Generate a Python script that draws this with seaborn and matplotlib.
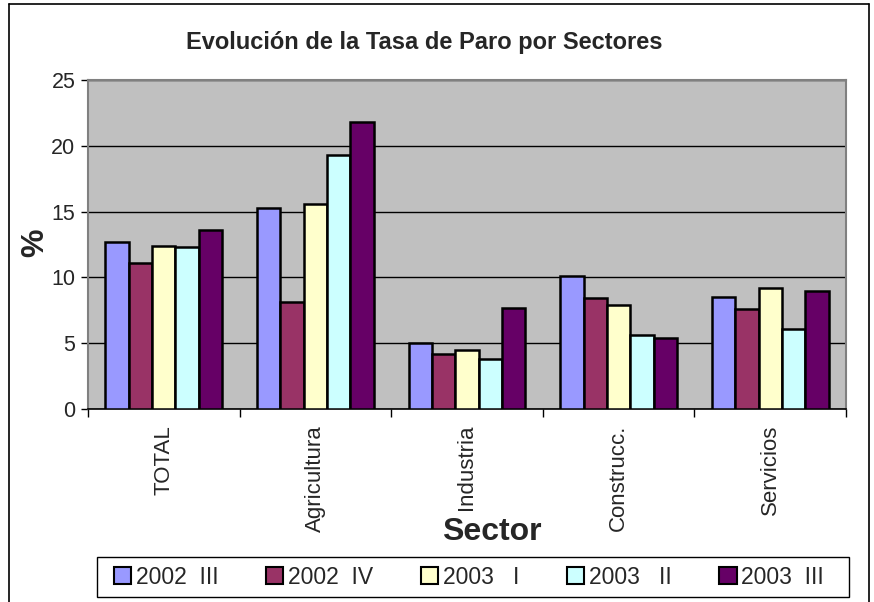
import matplotlib
matplotlib.use("Agg")
import matplotlib.pyplot as plt
import seaborn as sns
import pandas as pd
from matplotlib.patches import Patch, Rectangle
from matplotlib.lines import Line2D

sectors = ["TOTAL", "Agricultura", "Industria", "Construcc.", "Servicios"]
periods = ["2002  III", "2002  IV", "2003   I", "2003   II", "2003  III"]
v_2002_III = [12.7, 15.3, 5.0, 10.1, 8.5]
v_2002_IV = [11.1, 8.1, 4.2, 8.4, 7.6]
v_2003_I = [12.4, 15.6, 4.5, 7.9, 9.2]
v_2003_II = [12.3, 19.3, 3.8, 5.6, 6.1]
v_2003_III = [13.6, 21.8, 7.7, 5.4, 9.0]
colors = ["#9999FF", "#993366", "#FFFFCC", "#CCFFFF", "#660066"]

series = [v_2002_III, v_2002_IV, v_2003_I, v_2003_II, v_2003_III]
rows = []
for p, vals in zip(periods, series):
    for s, v in zip(sectors, vals):
        rows.append({"Sector": s, "Periodo": p, "Valor": v})
df = pd.DataFrame(rows)

sns.set_theme(style="white")
plt.rcParams["font.family"] = ["Liberation Sans", "DejaVu Sans"]

W, H = 874, 602
fig = plt.figure(figsize=(W / 100, H / 100), dpi=100)
fig.patch.set_facecolor("white")
ax = fig.add_axes([88 / W, 1 - 409 / H, (846 - 88) / W, (409 - 80) / H])
ax.set_facecolor("#C0C0C0")

sns.barplot(data=df, x="Sector", y="Valor", hue="Periodo", order=sectors,
            hue_order=periods, palette=colors, saturation=1,
            edgecolor="black", linewidth=1.8, width=0.77, errorbar=None,
            legend=False, ax=ax, zorder=3)

ax.set_ylim(0, 25)
ax.set_xlim(-0.5, len(sectors) - 0.5)
ax.set_yticks([0, 5, 10, 15, 20, 25])
ax.yaxis.grid(True, color="black", linewidth=1.0, zorder=1)
ax.set_axisbelow(True)
ax.tick_params(axis="y", which="major", direction="out", length=5, width=1,
               color="black", labelsize=15.5, pad=4, left=True)
ax.set_xticks(range(len(sectors)))
ax.set_xticklabels(sectors, rotation=90, fontsize=16, va="top")
ax.tick_params(axis="x", which="major", length=0, pad=11.5)
ax.set_xticks([i - 0.5 for i in range(len(sectors) + 1)], minor=True)
ax.tick_params(axis="x", which="minor", direction="out", length=6, width=1,
               color="black", bottom=True)
ax.set_xlabel("")
ax.set_ylabel("")
for side in ["top", "right", "left"]:
    ax.spines[side].set_color("#808080")
    ax.spines[side].set_linewidth(1.5)
ax.spines["bottom"].set_color("black")
ax.spines["bottom"].set_linewidth(1.2)

fig.text(424 / W, 1 - 42 / H, "Evolución de la Tasa de Paro por Sectores",
         ha="center", va="center", fontsize=17, fontweight="bold")
fig.text(35 / W, 1 - 243 / H, "%", ha="center", va="center", rotation=90,
         fontsize=23, fontweight="bold")
fig.text(492 / W, 1 - 532 / H, "Sector", ha="center", va="center",
         fontsize=23, fontweight="bold")

# legend frame
fig.add_artist(Rectangle((97 / W, 1 - 597 / H), (849 - 97) / W, 40 / H,
                         transform=fig.transFigure, facecolor="white",
                         edgecolor="black", linewidth=1.0, zorder=1))
handles = [Patch(facecolor=c, edgecolor="black", linewidth=1.5) for c in colors]
leg = fig.legend(handles, periods, loc="center", ncol=5, mode="expand",
                 bbox_to_anchor=(114 / W, 1 - 597 / H, (824 - 114) / W, 40 / H),
                 frameon=False, fontsize=16.5,
                 handlelength=0.75, handleheight=0.75, handletextpad=0.2,
                 borderaxespad=0, borderpad=0.0)
leg.set_zorder(2)

# outer chart border (left, top, right)
fig.add_artist(Line2D([9 / W, 9 / W], [0, 1 - 4 / H], color="black", linewidth=1.2))
fig.add_artist(Line2D([9 / W, 869 / W], [1 - 4 / H, 1 - 4 / H], color="black", linewidth=1.2))
fig.add_artist(Line2D([869 / W, 869 / W], [0, 1 - 4 / H], color="black", linewidth=1.2))

fig.savefig("out.png", dpi=100)
